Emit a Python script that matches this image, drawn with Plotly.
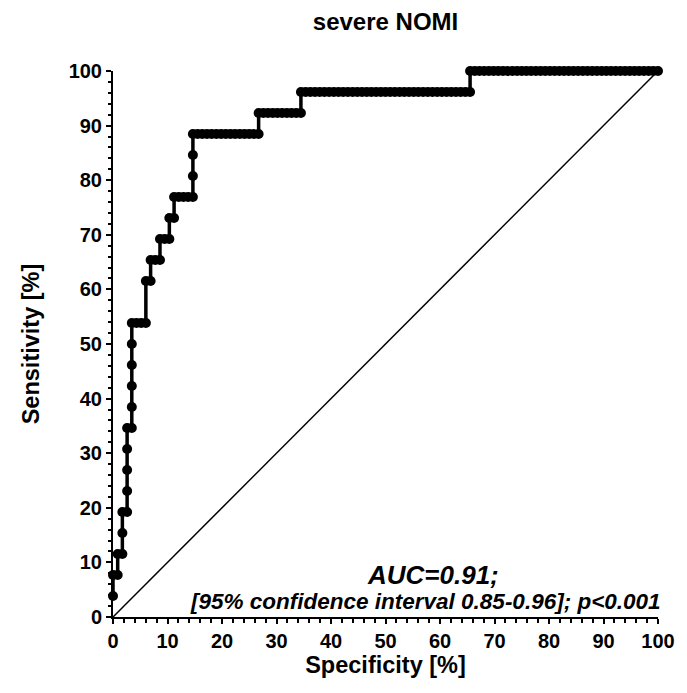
import plotly.graph_objects as go

# ROC curve points (x = 100 - specificity %, y = sensitivity %)
fpr = [0, 0, 0.86, 0.86, 1.72, 1.72, 1.72, 2.59, 2.59, 2.59, 2.59, 2.59,
       3.45, 3.45, 3.45, 3.45, 3.45, 3.45, 4.31, 5.17, 6.03, 6.03, 6.90, 6.90,
       7.76, 8.62, 8.62, 9.48, 10.34, 10.34, 11.21, 11.21, 12.07, 12.93, 13.79,
       14.66, 14.66, 14.66, 14.66,
       15.52, 16.38, 17.24, 18.10, 18.97, 19.83, 20.69, 21.55, 22.41, 23.28,
       24.14, 25.00, 25.86, 26.72,
       26.72, 27.59, 28.45, 29.31, 30.17, 31.03, 31.90, 32.76, 33.62, 34.48,
       34.48, 35.34, 36.21, 37.07, 37.93, 38.79, 39.66, 40.52, 41.38, 42.24,
       43.10, 43.97, 44.83, 45.69, 46.55, 47.41, 48.28, 49.14, 50.00, 50.86,
       51.72, 52.59, 53.45, 54.31, 55.17, 56.03, 56.90, 57.76, 58.62, 59.48,
       60.34, 61.21, 62.07, 62.93, 63.79, 64.66, 65.52,
       65.52, 66.38, 67.24, 68.10, 68.97, 69.83, 70.69, 71.55, 72.41, 73.28,
       74.14, 75.00, 75.86, 76.72, 77.59, 78.45, 79.31, 80.17, 81.03, 81.90,
       82.76, 83.62, 84.48, 85.34, 86.21, 87.07, 87.93, 88.79, 89.66, 90.52,
       91.38, 92.24, 93.10, 93.97, 94.83, 95.69, 96.55, 97.41, 98.28, 99.14,
       100.00]

sensitivity = [3.85, 7.69, 7.69, 11.54, 11.54, 15.38, 19.23, 19.23, 23.08, 26.92,
               30.77, 34.62, 34.62, 38.46, 42.31, 46.15, 50.00, 53.85, 53.85, 53.85,
               53.85, 61.54, 61.54, 65.38, 65.38, 65.38, 69.23, 69.23, 69.23, 73.08,
               73.08, 76.92, 76.92, 76.92, 76.92, 76.92, 80.77, 84.62, 88.46,
               88.46, 88.46, 88.46, 88.46, 88.46, 88.46, 88.46, 88.46, 88.46, 88.46,
               88.46, 88.46, 88.46, 88.46,
               92.31, 92.31, 92.31, 92.31, 92.31, 92.31, 92.31, 92.31, 92.31, 92.31,
               96.15, 96.15, 96.15, 96.15, 96.15, 96.15, 96.15, 96.15, 96.15, 96.15,
               96.15, 96.15, 96.15, 96.15, 96.15, 96.15, 96.15, 96.15, 96.15, 96.15,
               96.15, 96.15, 96.15, 96.15, 96.15, 96.15, 96.15, 96.15, 96.15, 96.15,
               96.15, 96.15, 96.15, 96.15, 96.15, 96.15, 96.15,
               100, 100, 100, 100, 100, 100, 100, 100, 100, 100,
               100, 100, 100, 100, 100, 100, 100, 100, 100, 100,
               100, 100, 100, 100, 100, 100, 100, 100, 100, 100,
               100, 100, 100, 100, 100, 100, 100, 100, 100, 100,
               100]

ref_x = [0, 100]
ref_y = [0, 100]

title_text = "severe NOMI"
x_title = "Specificity [%]"
y_title = "Sensitivity [%]"
auc_text = "AUC=0.91;"
ci_text = "[95% confidence interval 0.85-0.96]; p<0.001"

FONT = "Liberation Sans, Arial, sans-serif"

fig = go.Figure()
fig.add_trace(go.Scatter(x=ref_x, y=ref_y, mode="lines",
                         line=dict(color="black", width=1.5),
                         hoverinfo="skip", cliponaxis=False))
fig.add_trace(go.Scatter(x=fpr, y=sensitivity, mode="lines+markers",
                         line=dict(color="black", width=3.5),
                         marker=dict(color="black", size=10),
                         cliponaxis=False))

axis_common = dict(
    range=[0, 100], dtick=10, tick0=0,
    showline=True, linecolor="black", linewidth=2,
    ticks="outside", ticklen=5, tickwidth=2, tickcolor="black",
    minor=dict(dtick=2, ticks="outside", ticklen=3.5, tickwidth=1.5, tickcolor="black"),
    showgrid=False, zeroline=False, automargin=False,
    tickfont=dict(family=FONT, size=20, color="black", weight="bold"),
    fixedrange=True,
)

# page has an 8px body offset; target plot box is x 113..658, y 71..617 in the window
OFF = 8
PX0, PX1, PY0, PY1 = 113, 658, 71, 617
L = PX0 - OFF
T = PY0 - OFF
R = 687 - L - (PX1 - PX0)
B = 693 - T - (PY1 - PY0)

fig.update_layout(
    width=687, height=693,
    margin=dict(l=L, r=R, t=T, b=B, autoexpand=False),
    paper_bgcolor="white", plot_bgcolor="white",
    showlegend=False,
    title=dict(text=title_text, x=(L + 687 - R) / 2 / 687, xanchor="center",
               y=1 - (22 - OFF) / 693, yanchor="middle",
               font=dict(family=FONT, size=24, color="black", weight="bold")),
    xaxis=dict(axis_common, title=dict(text=x_title, standoff=2,
               font=dict(family=FONT, size=23.5, color="black", weight="bold"))),
    yaxis=dict(axis_common, title=dict(text=y_title, standoff=22,
               font=dict(family=FONT, size=23.5, color="black", weight="bold"))),
)

fig.add_annotation(x=(433 - PX0) / (PX1 - PX0) * 100, y=(PY1 - 575) / (PY1 - PY0) * 100,
                   xref="x", yref="y", text=auc_text, showarrow=False,
                   xanchor="center", yanchor="middle",
                   font=dict(family=FONT, size=26, color="black", weight="bold", style="italic"))
fig.add_annotation(x=(425 - PX0) / (PX1 - PX0) * 100, y=(PY1 - 601) / (PY1 - PY0) * 100,
                   xref="x", yref="y", text=ci_text, showarrow=False,
                   xanchor="center", yanchor="middle",
                   font=dict(family=FONT, size=22.5, color="black", weight="bold", style="italic"))

fig.write_html("out.html")
